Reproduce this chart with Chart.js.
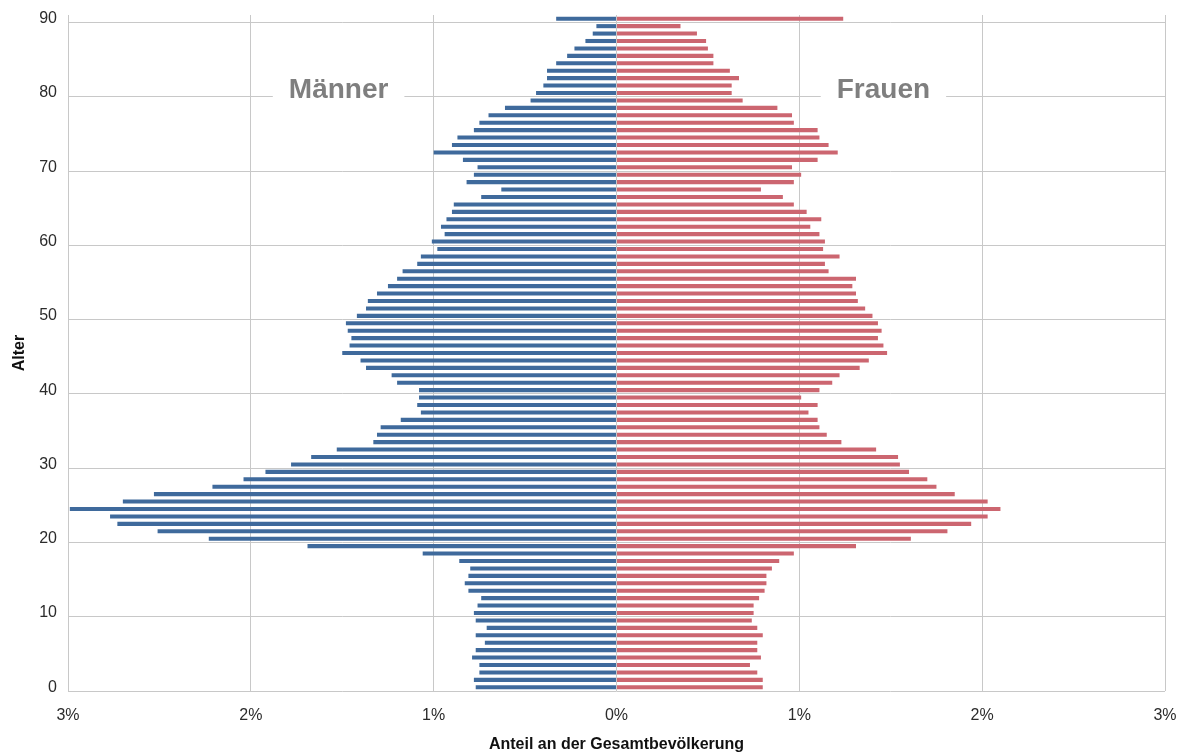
<!DOCTYPE html>
<html>
<head>
<meta charset="utf-8">
<title>Bevölkerungspyramide</title>
<script src="https://cdn.jsdelivr.net/npm/chart.js@4/dist/chart.umd.min.js"></script>
<style>
  html, body { margin: 0; padding: 0; background: #fff; }
  #wrap { width: 1182px; height: 753px; }
</style>
</head>
<body>
<div id="wrap"><canvas id="pyramid"></canvas></div>
<script>
// Ages 0..90 (one bar per year)
const ages = Array.from({ length: 91 }, (_, i) => String(i));

// Share of total population in %, age 0 first
const maenner = [
  0.77, 0.78, 0.75, 0.75, 0.79, 0.77, 0.72, 0.77, 0.71, 0.77,
  0.78, 0.76, 0.74, 0.81, 0.83, 0.81, 0.80, 0.86, 1.06, 1.69,
  2.23, 2.51, 2.73, 2.77, 2.99, 2.70, 2.53, 2.21, 2.04, 1.92,
  1.78, 1.67, 1.53, 1.33, 1.31, 1.29, 1.18, 1.07, 1.09, 1.08,
  1.08, 1.20, 1.23, 1.37, 1.40, 1.50, 1.46, 1.45, 1.47, 1.48,
  1.42, 1.37, 1.36, 1.31, 1.25, 1.20, 1.17, 1.09, 1.07, 0.98,
  1.01, 0.94, 0.96, 0.93, 0.90, 0.89, 0.74, 0.63, 0.82, 0.78,
  0.76, 0.84, 1.00, 0.90, 0.87, 0.78, 0.75, 0.70, 0.61, 0.47,
  0.44, 0.40, 0.38, 0.38, 0.33, 0.27, 0.23, 0.17, 0.13, 0.11,
  0.33
];
const frauen = [
  0.80, 0.80, 0.77, 0.73, 0.79, 0.77, 0.77, 0.80, 0.77, 0.74,
  0.75, 0.75, 0.78, 0.81, 0.82, 0.82, 0.85, 0.89, 0.97, 1.31,
  1.61, 1.81, 1.94, 2.03, 2.10, 2.03, 1.85, 1.75, 1.70, 1.60,
  1.55, 1.54, 1.42, 1.23, 1.15, 1.11, 1.10, 1.05, 1.10, 1.01,
  1.11, 1.18, 1.22, 1.33, 1.38, 1.48, 1.46, 1.43, 1.45, 1.43,
  1.40, 1.36, 1.32, 1.31, 1.29, 1.31, 1.16, 1.14, 1.22, 1.13,
  1.14, 1.11, 1.06, 1.12, 1.04, 0.97, 0.91, 0.79, 0.97, 1.01,
  0.96, 1.10, 1.21, 1.16, 1.11, 1.10, 0.97, 0.96, 0.88, 0.69,
  0.63, 0.63, 0.67, 0.62, 0.53, 0.53, 0.50, 0.49, 0.44, 0.35,
  1.24
];

// Tick labels
const ageTicks = ["0", "10", "20", "30", "40", "50", "60", "70", "80", "90"];
const pctTicks = [-3, -2, -1, 0, 1, 2, 3];

const FONT = "'Liberation Sans', Arial, sans-serif";
const GRID = "#c8c8c8";

// Gender captions sitting on the 80 gridline
const genderLabels = {
  id: "genderLabels",
  afterDatasetsDraw(chart) {
    const { ctx, scales } = chart;
    const yLine = scales.y.getPixelForValue(80) + (scales.y.getPixelForValue(0) - scales.y.getPixelForValue(1)) / 2;
    const items = [
      { text: "Männer", x: scales.x.getPixelForValue(-1.52) },
      { text: "Frauen", x: scales.x.getPixelForValue(1.46) }
    ];
    ctx.save();
    ctx.font = "bold 28px " + FONT;
    ctx.textAlign = "center";
    ctx.textBaseline = "alphabetic";
    items.forEach(item => {
      const w = ctx.measureText(item.text).width;
      ctx.fillStyle = "#fff";
      ctx.fillRect(item.x - w / 2 - 16, yLine - 22, w + 32, 26);
      ctx.fillStyle = "#7f7f7f";
      ctx.fillText(item.text, item.x, yLine + 1);
    });
    ctx.restore();
  }
};

document.addEventListener("DOMContentLoaded", () => {
  renderPyramid();
});

function renderPyramid() {
  const ctx = document.getElementById("pyramid").getContext("2d");

  new Chart(ctx, {
    type: "bar",
    data: {
      labels: ages,
      datasets: [
        {
          label: "Männer",
          data: maenner.map(v => -v),
          backgroundColor: "#3f6a9c",
          barPercentage: 0.55,
          categoryPercentage: 1
        },
        {
          label: "Frauen",
          data: frauen,
          backgroundColor: "#cc6670",
          barPercentage: 0.55,
          categoryPercentage: 1
        }
      ]
    },
    options: {
      indexAxis: "y",
      responsive: true,
      maintainAspectRatio: false,
      animation: false,
      layout: { padding: { top: 15, right: 17, bottom: 0, left: 10 } },
      plugins: {
        legend: { display: false },
        tooltip: { enabled: false }
      },
      scales: {
        x: {
          stacked: true,
          min: -3,
          max: 3,
          afterBuildTicks: scale => {
            scale.ticks = pctTicks.map(v => ({ value: v }));
          },
          grid: { color: GRID, lineWidth: 1, drawTicks: false },
          border: { display: false },
          ticks: {
            padding: 15,
            color: "#2b2b2b",
            font: { family: FONT, size: 16 },
            callback: v => Math.abs(v) + "%"
          },
          title: {
            display: true,
            text: "Anteil an der Gesamtbevölkerung",
            color: "#111",
            font: { family: FONT, size: 16, weight: "bold" },
            padding: { top: 5, bottom: -1 }
          },
          afterFit: scale => {
            scale.height = 62;
            scale.paddingLeft = 0;
            scale.paddingRight = 0;
          }
        },
        y: {
          stacked: true,
          reverse: true,
          offset: true,
          grid: {
            offset: true,
            drawTicks: false,
            color: c => (c.index % 10 === 0 && c.index <= 90 ? GRID : "rgba(0,0,0,0)")
          },
          border: { display: false },
          ticks: {
            autoSkip: false,
            padding: 11,
            color: "#2b2b2b",
            font: { family: FONT, size: 16 },
            callback: (v, i) => (ageTicks.includes(ages[i]) ? ages[i] : "")
          },
          title: {
            display: true,
            text: "Alter",
            color: "#111",
            font: { family: FONT, size: 16, weight: "bold" },
            padding: { top: 0, bottom: 6 }
          },
          afterFit: scale => {
            scale.width = 58;
            scale.paddingTop = 0;
            scale.paddingBottom = 0;
          }
        }
      }
    },
    plugins: [genderLabels]
  });
}
</script>
</body>
</html>
